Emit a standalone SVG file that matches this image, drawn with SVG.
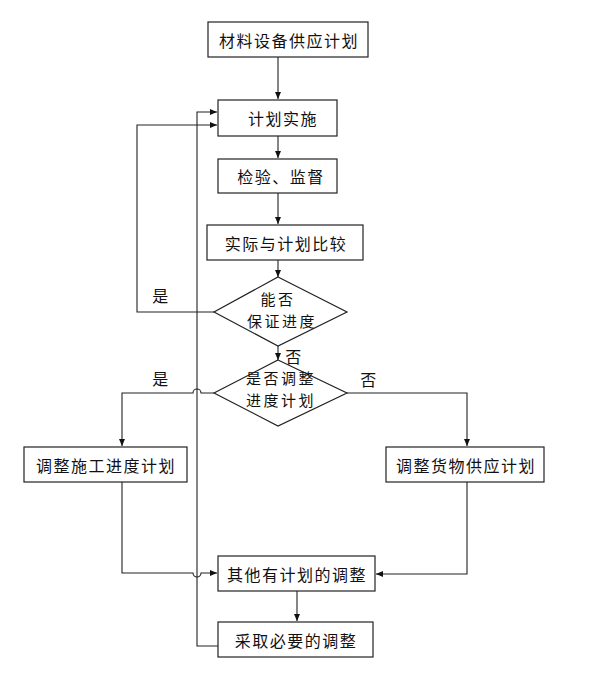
<svg xmlns="http://www.w3.org/2000/svg" width="596" height="677" viewBox="0 0 596 677">
<style>
.box{fill:#fff;stroke:#222;stroke-width:1.2}
.t{font-family:"Noto Sans CJK SC","Noto Sans",sans-serif;font-size:16px;letter-spacing:1.5px;fill:#111;text-anchor:middle;dominant-baseline:central}
.d{font-size:15px;letter-spacing:2.5px}
.ln{fill:none;stroke:#222;stroke-width:1.1}
</style>
<defs>
<marker id="ah" markerWidth="8" markerHeight="8" refX="7" refY="4" orient="auto" markerUnits="userSpaceOnUse">
<path d="M0,1 L7,4 L0,7 z" fill="#111"/>
</marker>
</defs>
<rect width="596" height="677" fill="#fff"/>
<g id="connectors">
<path class="ln" d="M278,57 V99" marker-end="url(#ah)"/>
<path class="ln" d="M278,136 V158" marker-end="url(#ah)"/>
<path class="ln" d="M278,193 V224" marker-end="url(#ah)"/>
<path class="ln" d="M278,260 V277" marker-end="url(#ah)"/>
<path class="ln" d="M278,346 V360" marker-end="url(#ah)"/>
<path class="ln" d="M214,312 H137 V125 H217" marker-end="url(#ah)"/>
<path class="ln" d="M218,646 H197 V112 H217" marker-end="url(#ah)"/>
<path class="ln" d="M214,393 H201 A4,4 0 0 0 193,393 H122 V446" marker-end="url(#ah)"/>
<path class="ln" d="M347,393 H467 V446" marker-end="url(#ah)"/>
<path class="ln" d="M122,482 V573 H193 A4,4 0 0 0 201,573 H217" marker-end="url(#ah)"/>
<path class="ln" d="M467,482 V574 H376" marker-end="url(#ah)"/>
<path class="ln" d="M297,591 V621" marker-end="url(#ah)"/>
<text class="t" x="161" y="295">是</text>
<text class="t" x="294" y="356">否</text>
<text class="t" x="161" y="378">是</text>
<text class="t" x="369" y="379">否</text>
</g>
<g id="n1"><rect class="box" x="208" y="22" width="160" height="35"/><text class="t" x="289" y="40">材料设备供应计划</text></g>
<g id="n2"><rect class="box" x="218" y="100" width="119" height="36"/><text class="t" x="283" y="118">计划实施</text></g>
<g id="n3"><rect class="box" x="218" y="159" width="119" height="34"/><text class="t" x="281" y="176">检验、监督</text></g>
<g id="n4"><rect class="box" x="207" y="225" width="156" height="35"/><text class="t" x="286" y="243">实际与计划比较</text></g>
<g id="d1"><polygon class="box" points="278,277 347,312 278,346 214,312"/><text class="t d" x="278" y="298">能否</text><text class="t d" x="282" y="320">保证进度</text></g>
<g id="d2"><polygon class="box" points="278,360 347,393 278,426 214,393"/><text class="t d" x="281" y="377">是否调整</text><text class="t d" x="281" y="399">进度计划</text></g>
<g id="n5"><rect class="box" x="24" y="447" width="163" height="35"/><text class="t" x="106" y="465">调整施工进度计划</text></g>
<g id="n6"><rect class="box" x="386" y="447" width="158" height="35"/><text class="t" x="466" y="465">调整货物供应计划</text></g>
<g id="n7"><rect class="box" x="218" y="556" width="157" height="35"/><text class="t" x="297" y="574">其他有计划的调整</text></g>
<g id="n8"><rect class="box" x="218" y="622" width="155" height="35"/><text class="t" x="296" y="640">采取必要的调整</text></g>
</svg>
